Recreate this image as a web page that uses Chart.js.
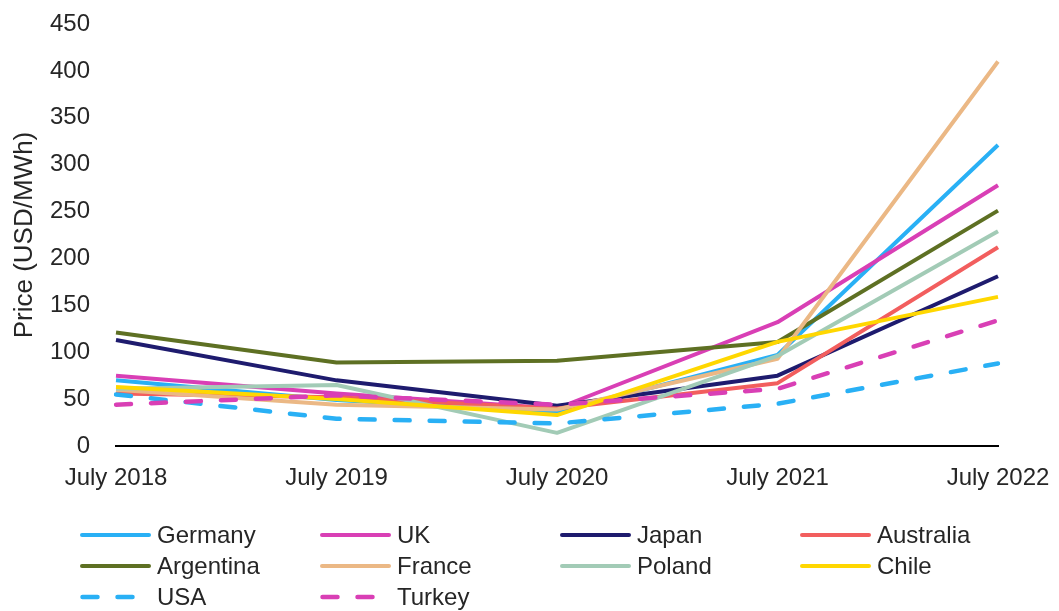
<!DOCTYPE html>
<html>
<head>
<meta charset="utf-8">
<script src="https://cdn.jsdelivr.net/npm/chart.js@4.4.1/dist/chart.umd.min.js"></script>
<style>
  html, body { margin: 0; padding: 0; background: #fff; }
  #wrap { position: relative; width: 1059px; height: 611px; overflow: hidden; }
  #c { position: absolute; left: 0; top: 0; }
  #legend { position: absolute; left: 80px; top: 519px; display: grid;
    grid-template-columns: 240px 240px 240px 240px; grid-auto-rows: 31px;
    font-family: "Liberation Sans", Arial, sans-serif; font-size: 24px; color: #262626; }
  .item { display: flex; align-items: center; white-space: nowrap; }
  .item svg { flex: none; margin-right: 6px; }
</style>
</head>
<body>
<div id="wrap">
  <canvas id="c" width="1059" height="611"></canvas>
  <div id="legend"></div>
</div>
<script>
const categories = ["July 2018", "July 2019", "July 2020", "July 2021", "July 2022"];
const seriesNames = ["Germany", "UK", "Japan", "Australia", "Argentina", "France", "Poland", "Chile", "USA", "Turkey"];
const germany   = [70, 49, 36, 97, 321];
const uk        = [75, 56, 40, 132, 278];
const japan     = [113, 70, 43, 75, 181];
const australia = [56, 52, 40, 67, 212];
const argentina = [121, 89, 91, 111, 251];
const france    = [60, 44, 39, 93, 410];
const poland    = [61, 65, 14, 96, 229];
const chile     = [63, 50, 33, 111, 159];
const usa       = [55, 29, 24, 45, 88];
const turkey    = [44, 54, 44, 61, 134];
const yTicks    = [0, 50, 100, 150, 200, 250, 300, 350, 400, 450];

const values = [germany, uk, japan, australia, argentina, france, poland, chile, usa, turkey];
const colors = ["#29B0F5", "#D93FB5", "#1E1B6E", "#F25E5E", "#5E7023", "#EBB885", "#A2CBB6", "#FFD700", "#29B0F5", "#D93FB5"];
const dashed = [false, false, false, false, false, false, false, false, true, true];

const datasets = seriesNames.map((name, i) => ({
  label: name,
  data: values[i],
  borderColor: colors[i],
  backgroundColor: colors[i],
  borderWidth: dashed[i] ? 4.5 : 4,
  borderDash: dashed[i] ? [15, 20] : [],
  borderCapStyle: dashed[i] ? 'round' : 'butt',
  borderJoinStyle: 'round',
  pointRadius: 0,
  pointHoverRadius: 0,
  tension: 0,
  fill: false,
  order: seriesNames.length - 1 - i
}));

const font = { family: '"Liberation Sans", Arial, sans-serif', size: 24 };

new Chart(document.getElementById('c'), {
  type: 'line',
  data: { labels: categories, datasets },
  options: {
    responsive: false,
    animation: false,
    devicePixelRatio: 1,
    layout: { padding: { left: 0, right: 61, top: 24, bottom: 0 } },
    plugins: { legend: { display: false }, tooltip: { enabled: false } },
    scales: {
      x: {
        offset: false,
        grid: { display: false, drawTicks: false },
        border: { display: true, color: '#000', width: 2 },
        ticks: { color: '#262626', font, padding: 18, maxRotation: 0, autoSkip: false },
        afterFit: (s) => { s.height = 165; s.paddingLeft = 0; s.paddingRight = 0; }
      },
      y: {
        min: 0, max: 450,
        afterBuildTicks: (s) => { s.ticks = yTicks.map(v => ({ value: v })); },
        grid: { display: false, drawTicks: false },
        border: { display: false },
        ticks: { color: '#262626', font, padding: 26 },
        title: { display: true, text: 'Price (USD/MWh)', color: '#262626',
                 font: { family: '"Liberation Sans", Arial, sans-serif', size: 26 }, padding: { top: 9, bottom: 0 } },
        afterFit: (s) => { s.width = 116; s.paddingTop = 0; s.paddingBottom = 0; }
      }
    }
  }
});

const legend = document.getElementById('legend');
seriesNames.forEach((name, i) => {
  const item = document.createElement('div');
  item.className = 'item';
  const dash = dashed[i] ? 'stroke-dasharray="15 20" stroke-linecap="round"' : 'stroke-linecap="round"';
  item.innerHTML = '<svg width="71" height="10"><line x1="' + (dashed[i] ? 2.5 : 2) + '" y1="5" x2="69" y2="5" stroke="' + colors[i] +
    '" stroke-width="' + (dashed[i] ? 4.5 : 4) + '" ' + dash + '/></svg><span>' + name + '</span>';
  legend.appendChild(item);
});
</script>
</body>
</html>
